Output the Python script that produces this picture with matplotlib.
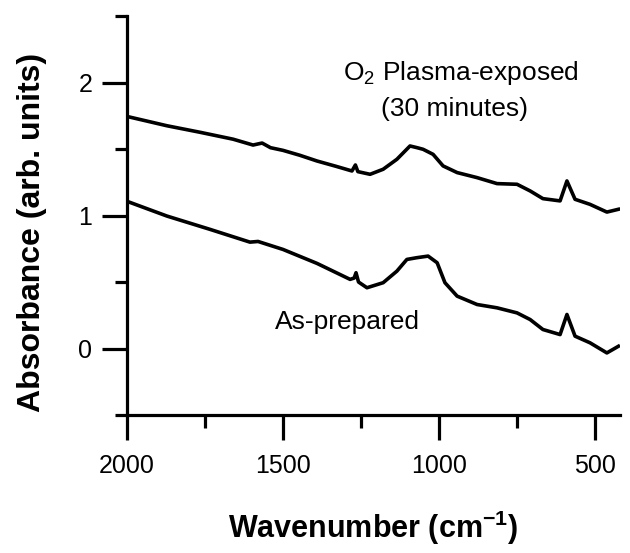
import matplotlib
matplotlib.use("Agg")
import matplotlib.pyplot as plt
from matplotlib.ticker import MultipleLocator

plt.rcParams['font.family'] = ['Liberation Sans', 'DejaVu Sans']
plt.rcParams['mathtext.fontset'] = 'custom'
plt.rcParams['mathtext.rm'] = 'Liberation Sans'
plt.rcParams['mathtext.bf'] = 'Liberation Sans:bold'

# O2 plasma-exposed spectrum (wavenumber, absorbance)
plasma_wn = [2000, 1872, 1766, 1660, 1596, 1567, 1540, 1500, 1446, 1391, 1330,
             1279, 1268, 1260, 1221, 1179, 1135, 1093, 1070, 1051, 1019, 987,
             942, 878, 814, 750, 708, 667, 612, 590, 564, 516, 462, 425]
plasma_abs = [1.745, 1.675, 1.626, 1.574, 1.53, 1.545, 1.51, 1.49, 1.453, 1.41, 1.37,
              1.335, 1.38, 1.33, 1.31, 1.348, 1.423, 1.523, 1.51, 1.498, 1.46, 1.373,
              1.323, 1.285, 1.24, 1.235, 1.185, 1.127, 1.11, 1.26, 1.122, 1.084, 1.026, 1.047]

# As-prepared spectrum
asprep_wn = [2000, 1872, 1734, 1606, 1580, 1560, 1500, 1391, 1285, 1272, 1266,
             1258, 1231, 1179, 1135, 1103, 1071, 1035, 1006, 981, 942, 878, 814,
             750, 708, 667, 612, 590, 564, 516, 462, 425]
asprep_abs = [1.107, 0.996, 0.896, 0.80, 0.805, 0.79, 0.745, 0.64, 0.52, 0.53, 0.57,
              0.50, 0.457, 0.495, 0.582, 0.67, 0.683, 0.695, 0.645, 0.495, 0.394, 0.331, 0.306,
              0.268, 0.218, 0.143, 0.105, 0.256, 0.093, 0.043, -0.033, 0.017]

fig = plt.figure(figsize=(6.3, 5.53), dpi=100)
ax = fig.add_axes([0.2016, 0.2495, 0.7825, 0.7215])

ax.plot(plasma_wn, plasma_abs, color='black', lw=2.6)
ax.plot(asprep_wn, asprep_abs, color='black', lw=2.6)

ax.set_xlim(2000, 420)
ax.set_ylim(-0.5, 2.5)

ax.xaxis.set_major_locator(MultipleLocator(500))
ax.xaxis.set_minor_locator(MultipleLocator(250))
ax.yaxis.set_major_locator(MultipleLocator(1))
ax.yaxis.set_minor_locator(MultipleLocator(0.5))

for s in ['top', 'right']:
    ax.spines[s].set_visible(False)
for s in ['left', 'bottom']:
    ax.spines[s].set_linewidth(2.3)

ax.tick_params(axis='both', which='major', direction='out', length=18, width=2.3,
               labelsize=18)
ax.tick_params(axis='both', which='minor', direction='out', length=9, width=2.3)
ax.tick_params(axis='x', which='major', pad=10)
ax.tick_params(axis='y', which='major', pad=7)

ax.set_xlabel(r'Wavenumber (cm$^{\mathbf{-1}}$)', fontsize=22, fontweight='bold', labelpad=22)
ax.set_ylabel('Absorbance (arb. units)', fontsize=23, fontweight='bold')
ax.yaxis.set_label_coords(-0.163, 0.457)

ax.text(930, 2.07, r'O$_2$ Plasma-exposed', fontsize=19, ha='center', va='center')
ax.text(950, 1.80, '(30 minutes)', fontsize=19, ha='center', va='center')
ax.text(1295, 0.20, 'As-prepared', fontsize=19, ha='center', va='center')

fig.savefig('out.png', dpi=100)
